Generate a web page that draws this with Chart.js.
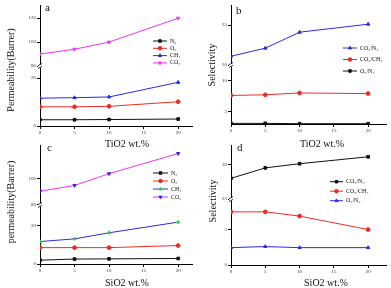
<!DOCTYPE html>
<html>
<head>
<meta charset="utf-8">
<script src="https://cdn.jsdelivr.net/npm/chart.js@4.4.0/dist/chart.umd.min.js"></script>
<style>
body{margin:0;background:#fff;width:391px;height:288px;overflow:hidden;position:relative;font-family:"Liberation Serif","DejaVu Serif",serif}
canvas{position:absolute}
.t{position:absolute;color:#111;white-space:nowrap;font-size:10px;transform:translate(-50%,-50%)}
.yt{transform:translate(-50%,-50%) rotate(-90deg)}
.lt{position:absolute;font-size:11px;color:#111}
</style>
</head>
<body>
<canvas id="pa" width="197" height="140" style="left:0;top:0"></canvas>
<canvas id="pb" width="196" height="140" style="left:195px;top:0"></canvas>
<canvas id="pc" width="197" height="148" style="left:0;top:140px"></canvas>
<canvas id="pd" width="196" height="148" style="left:195px;top:140px"></canvas>

<div class="lt" style="left:45px;top:1px">a</div>
<div class="lt" style="left:236px;top:4px">b</div>
<div class="lt" style="left:47px;top:141px">c</div>
<div class="lt" style="left:237px;top:141px">d</div>

<div class="t yt" style="left:10px;top:70px">Permeability(Barrer)</div>
<div class="t yt" style="left:211px;top:65px">Selectivity</div>
<div class="t yt" style="left:10px;top:202px">permeability(Barrer)</div>
<div class="t yt" style="left:212px;top:201px">Selectivity</div>
<div class="t" style="left:127px;top:143px">TiO2 wt.%</div>
<div class="t" style="left:322px;top:143px">TiO2 wt.%</div>
<div class="t" style="left:127px;top:282px">SiO2 wt.%</div>
<div class="t" style="left:326px;top:282px">SiO2 wt.%</div>

<script>
const wtLoading = [0, 5, 10, 20];
const xTicks = [0, 5, 10, 15, 20];

// a: TiO2 permeability (Barrer)
const tiN2 = [2.6, 2.6, 2.7, 2.9];
const tiO2 = [8.0, 8.0, 8.2, 10.1];
const tiCH4 = [11.6, 11.8, 12.1, 18.2];
const tiCO2 = [90, 94, 100, 120];
// b: TiO2 selectivity
const tiSelCO2N2 = [31.1, 32.1, 34.1, 35.1];
const tiSelCO2CH4 = [7.6, 7.7, 8.0, 7.9];
const tiSelO2N2 = [3.1, 3.1, 3.05, 3.05];
// c: SiO2 permeability (Barrer)
const siN2 = [2.0, 2.6, 2.7, 2.9];
const siO2 = [8.6, 8.6, 8.6, 9.7];
const siCH4 = [11.8, 13.2, 16.4, 22.0];
const siCO2 = [90.5, 95, 104, 119.5];
// d: SiO2 selectivity
const siSelCO2N2 = [28.0, 29.5, 30.1, 31.1];
const siSelCO2CH4 = [7.5, 7.5, 6.9, 5.0];
const siSelO2N2 = [2.45, 2.6, 2.45, 2.45];

const BLACK = '#111', RED = '#ee2a24', BLUE = '#2a2ae8', MAGENTA = '#f033f0', GREEN = '#30d030';
const SERIF = '"Liberation Serif", "DejaVu Serif", serif';

function pts(vals) {
  return wtLoading.map((x, i) => ({x: x, y: vals[i]}));
}

function series(label, vals, line, mark, style, axis) {
  return {
    label: label,
    data: pts(vals),
    borderColor: line,
    backgroundColor: mark,
    pointBackgroundColor: mark,
    pointBorderColor: mark,
    pointStyle: style === 'down' ? 'triangle' : style,
    pointRotation: style === 'down' ? 180 : 0,
    pointRadius: 1.9,
    borderWidth: 1,
    yAxisID: axis
  };
}

// small "//" mark where the y axis is broken
const axisBreak = {
  id: 'axisBreak',
  afterDraw(chart) {
    const ctx = chart.ctx;
    const x = chart.chartArea.left;
    const y = chart.scales.yTop.bottom;
    ctx.save();
    ctx.fillStyle = '#fff';
    ctx.fillRect(x - 2, y - 1.5, 4, 3);
    ctx.strokeStyle = '#000';
    ctx.lineWidth = 0.8;
    ctx.beginPath();
    ctx.moveTo(x - 2, y - 0.3); ctx.lineTo(x + 2, y - 2.5);
    ctx.moveTo(x - 2, y + 2.5); ctx.lineTo(x + 2, y + 0.3);
    ctx.stroke();
    ctx.restore();
  }
};

// legend drawn inside the plot, like the original figure
const sideLegend = {
  id: 'sideLegend',
  afterDraw(chart, args, o) {
    const ctx = chart.ctx;
    ctx.save();
    o.order.forEach((di, k) => {
      const ds = chart.data.datasets[di];
      const y = o.y + k * o.dy;
      ctx.strokeStyle = ds.borderColor;
      ctx.lineWidth = 1;
      ctx.beginPath();
      ctx.moveTo(o.x, y);
      ctx.lineTo(o.x + o.len, y);
      ctx.stroke();
      ctx.fillStyle = ds.pointBackgroundColor;
      ctx.strokeStyle = ds.pointBorderColor;
      Chart.helpers.drawPoint(ctx, {pointStyle: ds.pointStyle, rotation: ds.pointRotation, radius: 1.8, borderWidth: 1}, o.x + o.len / 2, y);
      ctx.fillStyle = '#111';
      ctx.font = '6px ' + SERIF;
      ctx.textBaseline = 'middle';
      ctx.fillText(ds.label, o.x + o.len + 3, y);
    });
    ctx.restore();
  }
};

function yScale(r, w) {
  return {
    type: 'linear', position: 'left', stack: 'y', stackWeight: r.weight,
    min: r.min, max: r.max,
    ticks: {stepSize: r.step, font: {family: SERIF, size: 5}, color: '#333', padding: 1},
    grid: {drawOnChartArea: false, drawTicks: true, tickLength: 3, color: '#000'},
    border: {color: '#000', width: 1},
    afterBuildTicks: s => { s.ticks = s.ticks.filter(t => Math.abs(t.value / r.step - Math.round(t.value / r.step)) < 1e-6); },
    afterFit: s => { s.width = w; }
  };
}

function makePanel(id, o) {
  const canvas = document.getElementById(id);
  return new Chart(canvas, {
    type: 'line',
    data: {datasets: o.datasets},
    options: {
      responsive: false,
      animation: false,
      devicePixelRatio: 1,
      layout: {padding: {left: 0, top: o.top, right: o.right, bottom: 0}},
      scales: {
        // stacked scales: the first one defined ends up at the bottom
        yBot: yScale(o.lower, o.left),
        yTop: yScale(o.upper, o.left),
        x: {
          type: 'linear', min: 0, max: o.xMax,
          ticks: {font: {family: SERIF, size: 5}, color: '#333', padding: 1, maxRotation: 0},
          grid: {drawOnChartArea: false, tickLength: 3, color: '#000'},
          border: {color: '#000', width: 1},
          afterBuildTicks: s => { s.ticks = xTicks.map(v => ({value: v})); },
          afterFit: s => { s.height = canvas.height - o.bottom; }
        }
      },
      plugins: {
        legend: {display: false},
        tooltip: {enabled: false},
        sideLegend: o.legend
      }
    },
    plugins: [axisBreak, sideLegend]
  });
}

makePanel('pa', {
  left: 40, top: 5, bottom: 126, right: 1, xMax: 22,
  upper: {min: 80, max: 131, step: 20, weight: 61},
  lower: {min: 0, max: 25, step: 20, weight: 60},
  datasets: [
    series('N\u2082', tiN2, BLACK, BLACK, 'rect', 'yBot'),
    series('O\u2082', tiO2, RED, RED, 'circle', 'yBot'),
    series('CH\u2084', tiCH4, BLUE, BLUE, 'triangle', 'yBot'),
    series('CO\u2082', tiCO2, MAGENTA, MAGENTA, 'down', 'yTop')
  ],
  legend: {x: 153, y: 41, dy: 7.3, len: 14, order: [0, 1, 2, 3]}
});

makePanel('pb', {
  left: 36, top: 5, bottom: 124, right: 0, xMax: 22.6,
  upper: {min: 30, max: 37.5, step: 5, weight: 60},
  lower: {min: 3, max: 12.5, step: 5, weight: 59},
  datasets: [
    series('CO\u2082/N\u2082', tiSelCO2N2, BLUE, BLUE, 'triangle', 'yTop'),
    series('CO\u2082/CH\u2084', tiSelCO2CH4, RED, RED, 'circle', 'yBot'),
    series('O\u2082/N\u2082', tiSelO2N2, BLACK, BLACK, 'rect', 'yBot')
  ],
  legend: {x: 148, y: 48, dy: 11.5, len: 14, order: [0, 1, 2]}
});

makePanel('pc', {
  left: 40, top: 3, bottom: 124, right: 1, xMax: 22,
  upper: {min: 80, max: 126, step: 20, weight: 61},
  lower: {min: 0, max: 31, step: 20, weight: 60},
  datasets: [
    series('N\u2082', siN2, BLACK, BLACK, 'rect', 'yBot'),
    series('O\u2082', siO2, RED, RED, 'circle', 'yBot'),
    series('CH\u2084', siCH4, BLUE, GREEN, 'triangle', 'yBot'),
    series('CO\u2082', siCO2, MAGENTA, BLUE, 'down', 'yTop')
  ],
  legend: {x: 153, y: 33, dy: 8, len: 15, order: [0, 1, 2, 3]}
});

makePanel('pd', {
  left: 36, top: 3, bottom: 125, right: 0, xMax: 22.6,
  upper: {min: 25, max: 32.8, step: 5, weight: 55},
  lower: {min: 0, max: 9.3, step: 5, weight: 67},
  datasets: [
    series('CO\u2082/N\u2082', siSelCO2N2, BLACK, BLACK, 'rect', 'yTop'),
    series('CO\u2082/CH\u2084', siSelCO2CH4, RED, RED, 'circle', 'yBot'),
    series('O\u2082/N\u2082', siSelO2N2, BLUE, BLUE, 'triangle', 'yBot')
  ],
  legend: {x: 135, y: 41.7, dy: 9.5, len: 13, order: [0, 1, 2]}
});
</script>
</body>
</html>
